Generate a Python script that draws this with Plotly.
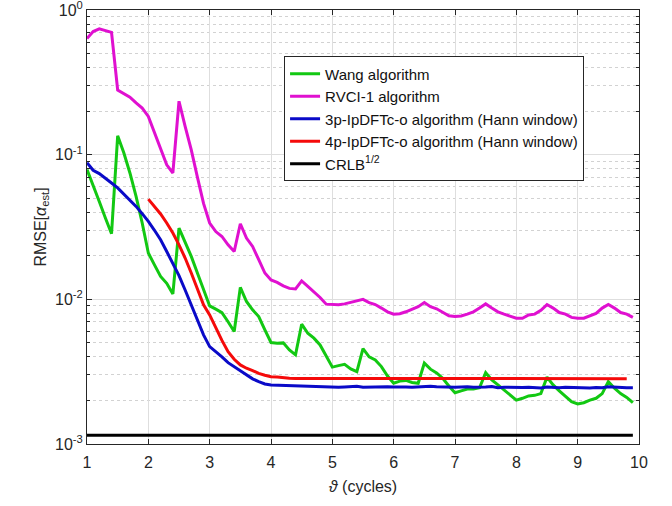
import numpy as np
import plotly.graph_objects as go

theta = np.round(np.arange(1.0, 9.95, 0.1), 1)
theta_4p = np.round(np.arange(2.0, 9.95, 0.1), 1)

wang = [0.079, 0.062, 0.0475, 0.0365, 0.0284, 0.135, 0.103, 0.0747, 0.0514, 0.0337,
        0.0209, 0.0173, 0.0144, 0.0129, 0.0109, 0.0311, 0.0251, 0.0198, 0.0152, 0.0116,
        0.0090, 0.00855, 0.0081, 0.0070, 0.0060, 0.0121, 0.00966, 0.00846, 0.0076, 0.00615,
        0.00503, 0.00498, 0.0050, 0.00447, 0.00413, 0.00673, 0.00583, 0.00539, 0.00484, 0.00406,
        0.0034, 0.00348, 0.00355, 0.0033, 0.00316, 0.00456, 0.0040, 0.00381, 0.00343, 0.00295,
        0.00263, 0.00272, 0.00275, 0.00266, 0.00263, 0.00362, 0.00329, 0.0031, 0.00285, 0.00252,
        0.00226, 0.00233, 0.0024, 0.0024, 0.00245, 0.00311, 0.00277, 0.00256, 0.00236, 0.00218,
        0.00201, 0.00207, 0.00215, 0.00217, 0.00223, 0.0029, 0.00256, 0.00233, 0.00215, 0.00196,
        0.00189, 0.00193, 0.00201, 0.00207, 0.00223, 0.0027, 0.00243, 0.00223, 0.0021, 0.00193]

rvci = [0.635, 0.71, 0.74, 0.72, 0.70, 0.28, 0.263, 0.25, 0.228, 0.21,
        0.184, 0.141, 0.108, 0.085, 0.0747, 0.234, 0.157, 0.108, 0.070, 0.046,
        0.0337, 0.0294, 0.0272, 0.0238, 0.0214, 0.0333, 0.0265, 0.0232, 0.0188, 0.0152,
        0.0136, 0.0131, 0.0124, 0.0119, 0.0118, 0.0134, 0.0123, 0.0113, 0.0103, 0.00926,
        0.00916, 0.00916, 0.0093, 0.0095, 0.0098, 0.0100, 0.0095, 0.0092, 0.0087, 0.0082,
        0.0079, 0.00795, 0.0082, 0.0086, 0.0089, 0.0095, 0.0089, 0.0086, 0.0081, 0.0077,
        0.0076, 0.00767, 0.0079, 0.0082, 0.0087, 0.0093, 0.0087, 0.0082, 0.0079, 0.00767,
        0.0074, 0.0074, 0.0078, 0.0079, 0.0084, 0.0092, 0.0087, 0.0081, 0.0079, 0.0075,
        0.0074, 0.0074, 0.0077, 0.0080, 0.0087, 0.0092, 0.0087, 0.0081, 0.0079, 0.0075]

p3 = [0.088, 0.078, 0.074, 0.069, 0.0637, 0.0589, 0.0535, 0.0489, 0.0439, 0.0391,
      0.0346, 0.030, 0.0258, 0.0214, 0.0178, 0.0146, 0.0116, 0.00916, 0.00721, 0.00568,
      0.00471, 0.00435, 0.0040, 0.00365, 0.00343, 0.0032, 0.0030, 0.00282, 0.0027, 0.0026,
      0.00256, 0.00255, 0.00254, 0.00253, 0.00252, 0.00253, 0.00251, 0.0025, 0.0025, 0.00249,
      0.00248, 0.00247, 0.00248, 0.00249, 0.00251, 0.00247, 0.00248, 0.00249, 0.00248, 0.00249,
      0.00248, 0.00249, 0.00248, 0.00247, 0.00249, 0.0025, 0.00251, 0.00249, 0.00248, 0.00249,
      0.00247, 0.00248, 0.00249, 0.00247, 0.00246, 0.00248, 0.0025, 0.00245, 0.00247, 0.00246,
      0.00245, 0.00246, 0.00247, 0.00246, 0.00244, 0.00248, 0.00246, 0.00245, 0.00247, 0.00246,
      0.00245, 0.00246, 0.00244, 0.00246, 0.00245, 0.00249, 0.00247, 0.00246, 0.00245, 0.00245]

p4 = [0.0493, 0.0439, 0.0389, 0.0337, 0.0287, 0.0238, 0.0193, 0.0152, 0.0119, 0.00916,
      0.0078, 0.0063, 0.0052, 0.00435, 0.00385, 0.00352, 0.00334, 0.00322, 0.00308, 0.00299,
      0.00292, 0.0029, 0.00286, 0.00285, 0.00284, 0.00284, 0.00283, 0.00284, 0.00283, 0.00282,
      0.00283, 0.00284, 0.00283, 0.00282, 0.00283, 0.00285, 0.00282, 0.00283, 0.00284, 0.00283,
      0.00283, 0.00284, 0.00283, 0.00282, 0.00283, 0.00284, 0.00285, 0.00284, 0.00283, 0.00282,
      0.00283, 0.00282, 0.00283, 0.00282, 0.00284, 0.00283, 0.00282, 0.00283, 0.00282, 0.00283,
      0.00282, 0.00283, 0.00282, 0.00284, 0.00283, 0.00282, 0.00283, 0.00282, 0.00283, 0.00282,
      0.00284, 0.00283, 0.00283, 0.00282, 0.00284, 0.00283, 0.00282, 0.00283, 0.00283]

crlb = [0.00115] * len(theta)

names = ["Wang algorithm", "RVCI-1 algorithm", "3p-IpDFTc-o algorithm (Hann window)",
         "4p-IpDFTc-o algorithm (Hann window)", "CRLB<sup>1/2</sup>"]
colors = ["#12c812", "#e010d0", "#0a0ac8", "#f50a0a", "#000000"]

xticks = list(range(1, 11))
yticks = [1e-3, 1e-2, 1e-1, 1]
yticktext = ["10<sup>-3</sup>", "10<sup>-2</sup>", "10<sup>-1</sup>", "10<sup>0</sup>"]
yminor = [m * 10.0 ** e for e in (-3, -2, -1) for m in range(2, 10)]

fig = go.Figure()
series = [(theta, wang), (theta, rvci), (theta, p3), (theta_4p, p4), (theta, crlb)]
for (xs, ys), n, c in zip(series, names, colors):
    fig.add_trace(go.Scatter(x=xs, y=ys, mode="lines", name=n,
                             line=dict(color=c, width=3)))

axcol = "#262626"
font = "Liberation Sans, Arial, sans-serif"
fig.update_layout(
    width=672, height=506,
    margin=dict(l=87, r=33, t=10, b=62, autoexpand=False),
    paper_bgcolor="white", plot_bgcolor="white",
    font=dict(family=font, size=16, color=axcol),
    showlegend=True,
    legend=dict(x=0.357, y=0.893, xanchor="left", yanchor="top",
                bgcolor="white", bordercolor=axcol, borderwidth=1,
                font=dict(size=15, color="#111"), tracegroupgap=0),
    xaxis=dict(range=[1, 10], tickvals=xticks, ticks="inside", ticklen=5,
               tickcolor=axcol, showline=True, linecolor=axcol, linewidth=1,
               mirror="ticks", showgrid=True, gridcolor="#dedede", gridwidth=1,
               zeroline=False, tickfont=dict(size=16), ticklabelstandoff=4,
               title=dict(text="<i>ϑ</i> (cycles)", font=dict(size=16), standoff=10)),
    yaxis=dict(type="log", range=[-3, 0], tickvals=yticks, ticktext=yticktext,
               ticks="inside", ticklen=5, tickcolor=axcol, showline=True,
               linecolor=axcol, linewidth=1, mirror="ticks", showgrid=True,
               gridcolor="#dedede", gridwidth=1, zeroline=False,
               tickfont=dict(size=16), ticklabeloverflow="allow",
               minor=dict(tickvals=yminor, ticks="inside", ticklen=3, tickcolor=axcol,
                          showgrid=True, gridcolor="#d2d2d2", griddash="dot", gridwidth=1),
               title=dict(text="RMSE[<i>α</i><sub>est</sub>]", font=dict(size=16), standoff=4)),
)

fig.write_html("out.html")
